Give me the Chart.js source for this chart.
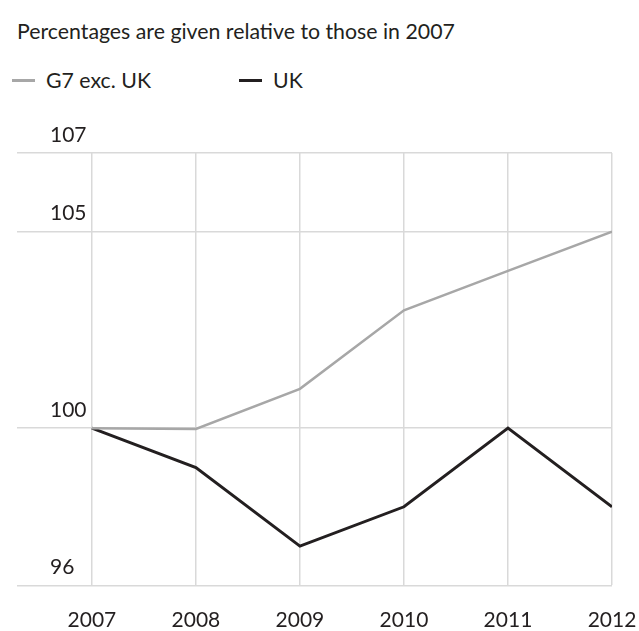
<!DOCTYPE html>
<html>
<head>
<meta charset="utf-8">
<script src="https://cdn.jsdelivr.net/npm/chart.js@4/dist/chart.umd.min.js"></script>
<style>
    html, body { margin: 0; padding: 0; background: #fff; overflow: hidden; }
    #wrap { position: relative; width: 639px; height: 631px; font-family: Lato, sans-serif; color: #231f20; }
    #title { position: absolute; left: 17px; top: 18px; font-size: 21.3px; white-space: nowrap; }
    .key { position: absolute; top: 67px; font-size: 21.3px; white-space: nowrap; }
    .key span { display: inline-block; width: 23px; height: 3px; vertical-align: middle; margin-right: 11px; position: relative; top: -2px; }
    canvas { position: absolute; left: 0; top: 0; }
</style>
</head>
<body>
<div id="wrap">
    <div id="title">Percentages are given relative to those in 2007</div>
    <div class="key" style="left:12px"><span style="background:#a7a7a7"></span>G7 exc. UK</div>
    <div class="key" style="left:239px"><span style="background:#231f20"></span>UK</div>
    <canvas id="chart" width="639" height="631"></canvas>
</div>
<script>
// values, relative to 2007 = 100
const years = [2007, 2008, 2009, 2010, 2011, 2012];
const g7ExcUk = [100, 99.98, 101, 103, 104, 105];
const uk = [100, 99, 97, 98, 100, 98];
const yTicks = [96, 100, 105, 107];

const gridColor = '#d9d9d9';
const textColor = '#231f20';
const tickFont = { family: 'Lato', size: 21 };

const toPoints = (vals) => years.map((y, i) => ({ x: y, y: vals[i] }));

new Chart(document.getElementById('chart').getContext('2d'), {
    type: 'line',
    data: {
        datasets: [
            {
                label: 'G7 exc. UK',
                data: toPoints(g7ExcUk),
                borderColor: '#a7a7a7',
                borderWidth: 2.5,
                pointRadius: 0,
                tension: 0
            },
            {
                label: 'UK',
                data: toPoints(uk),
                borderColor: '#231f20',
                borderWidth: 3,
                pointRadius: 0,
                tension: 0
            }
        ]
    },
    options: {
        responsive: false,
        animation: false,
        layout: { padding: { left: 17, right: 27, top: 153, bottom: 0 } },
        plugins: {
            legend: { display: false },
            tooltip: { enabled: false }
        },
        scales: {
            x: {
                type: 'linear',
                min: 2006.28,
                max: 2012,
                afterBuildTicks: (scale) => { scale.ticks = years.map(v => ({ value: v })); },
                afterFit: (scale) => {
                    scale.height = 44;
                    scale.paddingLeft = 0;
                    scale.paddingRight = 0;
                },
                grid: { color: gridColor, lineWidth: 1.5, drawTicks: false },
                border: { display: false },
                ticks: {
                    padding: 22,
                    color: textColor,
                    font: tickFont,
                    callback: (v) => String(v),
                    maxRotation: 0
                }
            },
            y: {
                min: 96,
                max: 107,
                afterBuildTicks: (scale) => { scale.ticks = yTicks.map(v => ({ value: v })); },
                afterFit: (scale) => { scale.width = 0; },
                grid: { color: gridColor, lineWidth: 1.5, drawTicks: false },
                border: { display: false },
                ticks: {
                    mirror: true,
                    padding: 33,
                    labelOffset: -18,
                    color: textColor,
                    font: tickFont
                }
            }
        }
    }
});
</script>
</body>
</html>
